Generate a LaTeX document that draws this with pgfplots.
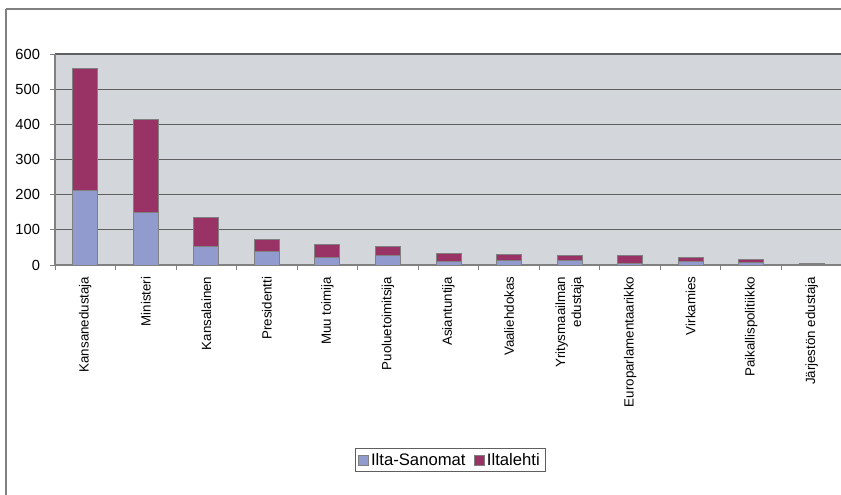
\documentclass[border=0pt]{standalone}
\usepackage{pgfplots}
\pgfplotsset{compat=1.18}
\usepackage{fontspec}
\setmainfont{Liberation Sans}

\definecolor{plotbg}{RGB}{211,214,218}
\definecolor{isblue}{RGB}{145,155,205}
\definecolor{ilred}{RGB}{153,51,102}
\definecolor{framegray}{RGB}{128,128,128}
\definecolor{gridgray}{RGB}{95,95,95}

\begin{document}
\begin{tikzpicture}
% page = 841 x 494 px, 1px = 0.75pt
\clip (0pt,0pt) rectangle (630.75pt,370.5pt);
\draw[framegray,line width=1.4pt] (4.5pt,363.75pt) -- (4.5pt,-20pt);
\draw[framegray,line width=1.4pt] (4.5pt,363.75pt) -- (650pt,363.75pt);
\begin{axis}[
    at={(41.25pt,171.75pt)}, anchor=south west,
    scale only axis,
    width=590.25pt, height=158.25pt,
    ybar stacked,
    bar width=18.75pt,
    xmin=-0.5, xmax=12.5,
    ymin=0, ymax=600,
    ytick={0,100,...,600},
    % ticks sit between categories; labels are shifted half a category
    xtick={-0.5,0.5,...,12.5},
    major tick length=3.75pt,
    tick align=outside,
    tick style={framegray, line width=0.75pt},
    axis x line*=bottom,
    axis y line*=left,
    axis line style={framegray, line width=1pt},
    axis background/.style={fill=plotbg},
    ymajorgrids,
    grid style={gridgray, line width=0.8pt},
    xticklabels={Kansanedustaja,Ministeri,Kansalainen,Presidentti,Muu toimija,
        Puoluetoimitsija,Asiantuntija,Vaaliehdokas,{Yritysmaailman\\edustaja},
        Europarlamentaarikko,Virkamies,Paikallispolitiikko,Järjestön edustaja,{}},
    x tick label style={xshift=22.7pt, yshift=-1.5pt, rotate=90, anchor=east, align=right,
        font=\fontsize{10}{12}\selectfont},
    y tick label style={xshift=-4pt, font=\fontsize{11}{12}\selectfont},
    /pgf/number format/assume math mode=true,
    legend columns=2,
    legend style={at={(0.502,-0.924)}, anchor=center,
        draw=gridgray, line width=0.6pt,
        font=\fontsize{12.5}{14}\selectfont,
        inner xsep=2pt, inner ysep=1.5pt,
        /tikz/every even column/.append style={column sep=4pt}},
    legend image code/.code={\draw[#1,draw=framegray,line width=0.5pt] (0pt,-3.8pt) rectangle (7.5pt,3.8pt);},
]
\addplot[fill=isblue, draw=framegray, line width=0.75pt] coordinates {
    (0,213) (1,149) (2,54) (3,38) (4,21) (5,26) (6,11)
    (7,12) (8,13) (9,4) (10,9) (11,8) (12,2)
};
\addplot[fill=ilred, draw=framegray, line width=0.75pt] coordinates {
    (0,347) (1,266) (2,82) (3,35) (4,36) (5,26) (6,21)
    (7,18) (8,15) (9,24) (10,12) (11,7) (12,3)
};
\legend{Ilta-Sanomat,Iltalehti}
\end{axis}
\end{tikzpicture}
\end{document}
